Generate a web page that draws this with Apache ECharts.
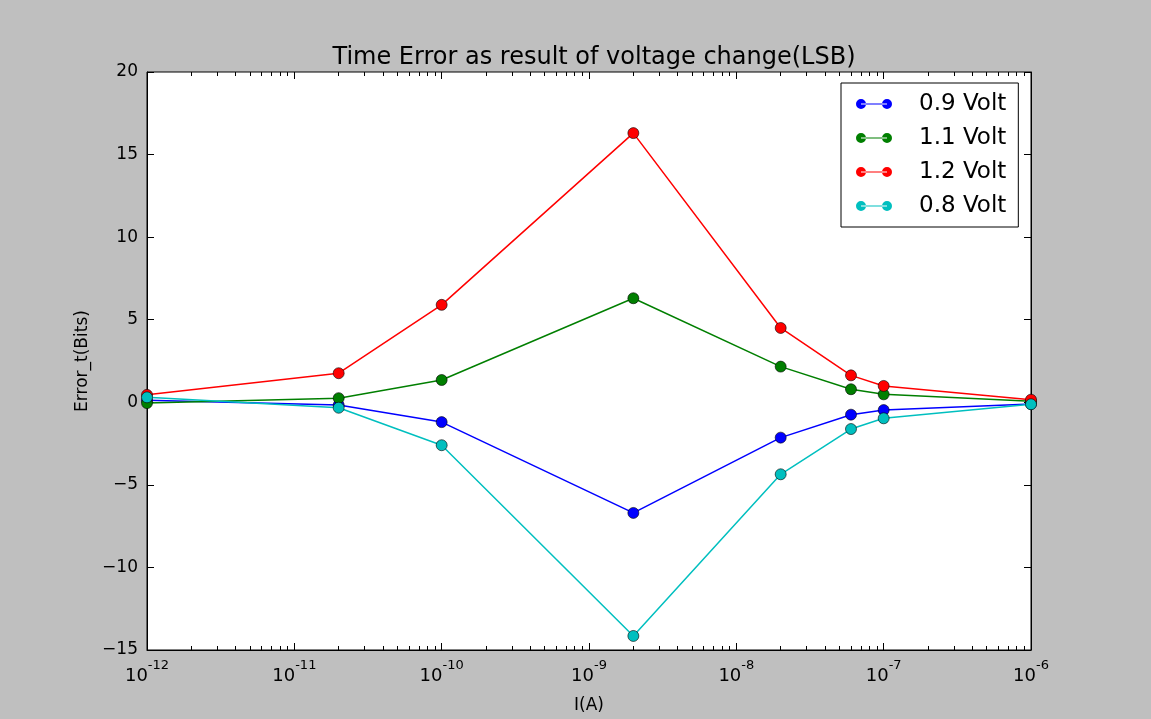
<!DOCTYPE html>
<html>
<head>
<meta charset="utf-8">
<script src="https://cdn.jsdelivr.net/npm/echarts@6/dist/echarts.min.js"></script>
<style>
html,body{margin:0;padding:0;background:#bfbfbf;}
#c{width:1151px;height:719px;}
</style>
</head>
<body>
<div id="c"></div>
<script>
// Data
const currents = [1e-12, 2e-11, 1e-10, 2e-9, 2e-8, 6e-8, 1e-7, 1e-6];
const seriesNames = ['0.9 Volt', '1.1 Volt', '1.2 Volt', '0.8 Volt'];
const v09 = [0.12, -0.17, -1.2, -6.7, -2.14, -0.75, -0.47, -0.1];
const v11 = [-0.05, 0.25, 1.35, 6.3, 2.16, 0.79, 0.48, 0.06];
const v12 = [0.45, 1.76, 5.9, 16.3, 4.5, 1.63, 0.99, 0.16];
const v08 = [0.3, -0.33, -2.6, -14.15, -4.36, -1.62, -0.97, -0.12];
const seriesColors = ['#0000ff', '#007f00', '#ff0000', '#00bfbf'];
const yTicks = [-15, -10, -5, 0, 5, 10, 15, 20];

const FONT = 'DejaVu Sans';
// minor tick positions on the log axis, expressed as log10 values
const minorLog = [];
for (let d = -12; d <= -7; d++) for (let m = 2; m <= 9; m++) minorLog.push(d + Math.log10(m));

function pairs(vals) { return currents.map((x, i) => [x, vals[i]]); }
const allVals = [v09, v11, v12, v08];

const chart = echarts.init(document.getElementById('c'));
const legendIcon = 'path://M0,5a5,5 0 1,0 10,0a5,5 0 1,0 -10,0zM26,5a5,5 0 1,0 10,0a5,5 0 1,0 -10,0zM5,4.4h26v1.2h-26z';

function minorAxis(pos) {
  return {
    type: 'value', min: -12, max: -6, gridIndex: 0, position: pos,
    axisLine: {show: false, onZero: false}, axisLabel: {show: false}, splitLine: {show: false},
    axisTick: {show: true, inside: true, length: 4, customValues: minorLog, lineStyle: {color: '#000'}}
  };
}

chart.setOption({
  backgroundColor: '#bfbfbf',
  animation: false,
  title: {
    text: 'Time Error as result of voltage change(LSB)',
    left: 589, top: 41, textAlign: 'center',
    textStyle: {fontFamily: FONT, fontSize: 24, fontWeight: 'normal', color: '#000'}
  },
  grid: {left: 147, right: 120, top: 72, bottom: 69, outerBoundsMode: 'none', containLabel: false,
         show: true, backgroundColor: '#fff', borderColor: '#000', borderWidth: 1},
  legend: {
    orient: 'vertical', left: 841, top: 83,
    data: seriesNames,
    icon: legendIcon, itemWidth: 36, itemHeight: 10, itemGap: 10,
    itemStyle: {borderWidth: 0},
    padding: [9, 12, 9, 15],
    borderColor: '#000', borderWidth: 1, backgroundColor: '#fff', borderRadius: 0,
    textStyle: {fontFamily: FONT, fontSize: 23, color: '#000', lineHeight: 24, padding: [0, 0, 0, 22]}
  },
  xAxis: [
    {
      type: 'log', logBase: 10, min: 1e-12, max: 1e-6, gridIndex: 0,
      position: 'bottom',
      name: 'I(A)', nameLocation: 'middle', nameGap: 47,
      nameTextStyle: {fontFamily: FONT, fontSize: 17, color: '#000'},
      axisLine: {show: true, onZero: false, lineStyle: {color: '#000', width: 1}},
      axisTick: {show: true, inside: true, length: 7, lineStyle: {color: '#000'}},
      splitLine: {show: false},
      axisLabel: {
        margin: 9,
        formatter: v => '{b|10}{s|' + String(Math.round(Math.log10(v))) + '}',
        rich: {
          b: {fontFamily: FONT, fontSize: 18, color: '#000', verticalAlign: 'bottom', lineHeight: 26},
          s: {fontFamily: FONT, fontSize: 13, color: '#000', verticalAlign: 'top', lineHeight: 26, padding: [0, 0, 12, 0]}
        }
      }
    },
    minorAxis('bottom'),
    {
      type: 'log', logBase: 10, min: 1e-12, max: 1e-6, gridIndex: 0,
      position: 'top',
      axisLine: {show: false, onZero: false}, axisLabel: {show: false}, splitLine: {show: false},
      axisTick: {show: true, inside: true, length: 7, lineStyle: {color: '#000'}}
    },
    minorAxis('top')
  ],
  yAxis: [
    {
      type: 'value', min: yTicks[0], max: yTicks[yTicks.length - 1], interval: 5,
      position: 'left',
      name: 'Error_t(Bits)', nameLocation: 'middle', nameGap: 56, nameRotate: 90,
      nameTextStyle: {fontFamily: FONT, fontSize: 17, color: '#000'},
      axisLine: {show: true, onZero: false, lineStyle: {color: '#000'}},
      axisTick: {show: true, inside: true, length: 7, lineStyle: {color: '#000'}},
      splitLine: {show: false},
      axisLabel: {margin: 9, fontFamily: FONT, fontSize: 17, color: '#000', formatter: v => String(v).replace('-', '−')}
    },
    {
      type: 'value', min: yTicks[0], max: yTicks[yTicks.length - 1], interval: 5,
      position: 'right',
      axisLine: {show: true, onZero: false, lineStyle: {color: '#000'}},
      axisTick: {show: true, inside: true, length: 7, lineStyle: {color: '#000'}},
      axisLabel: {show: false}, splitLine: {show: false}
    }
  ],
  series: seriesNames.map((n, i) => ({
    name: n, type: 'line', xAxisIndex: 0, yAxisIndex: 0,
    data: pairs(allVals[i]),
    symbol: 'circle', symbolSize: 11,
    color: seriesColors[i],
    lineStyle: {color: seriesColors[i], width: 1.5},
    itemStyle: {color: seriesColors[i], borderColor: '#000', borderWidth: 0.6},
    z: 2 + i, clip: false
  }))
});
</script>
</body>
</html>
